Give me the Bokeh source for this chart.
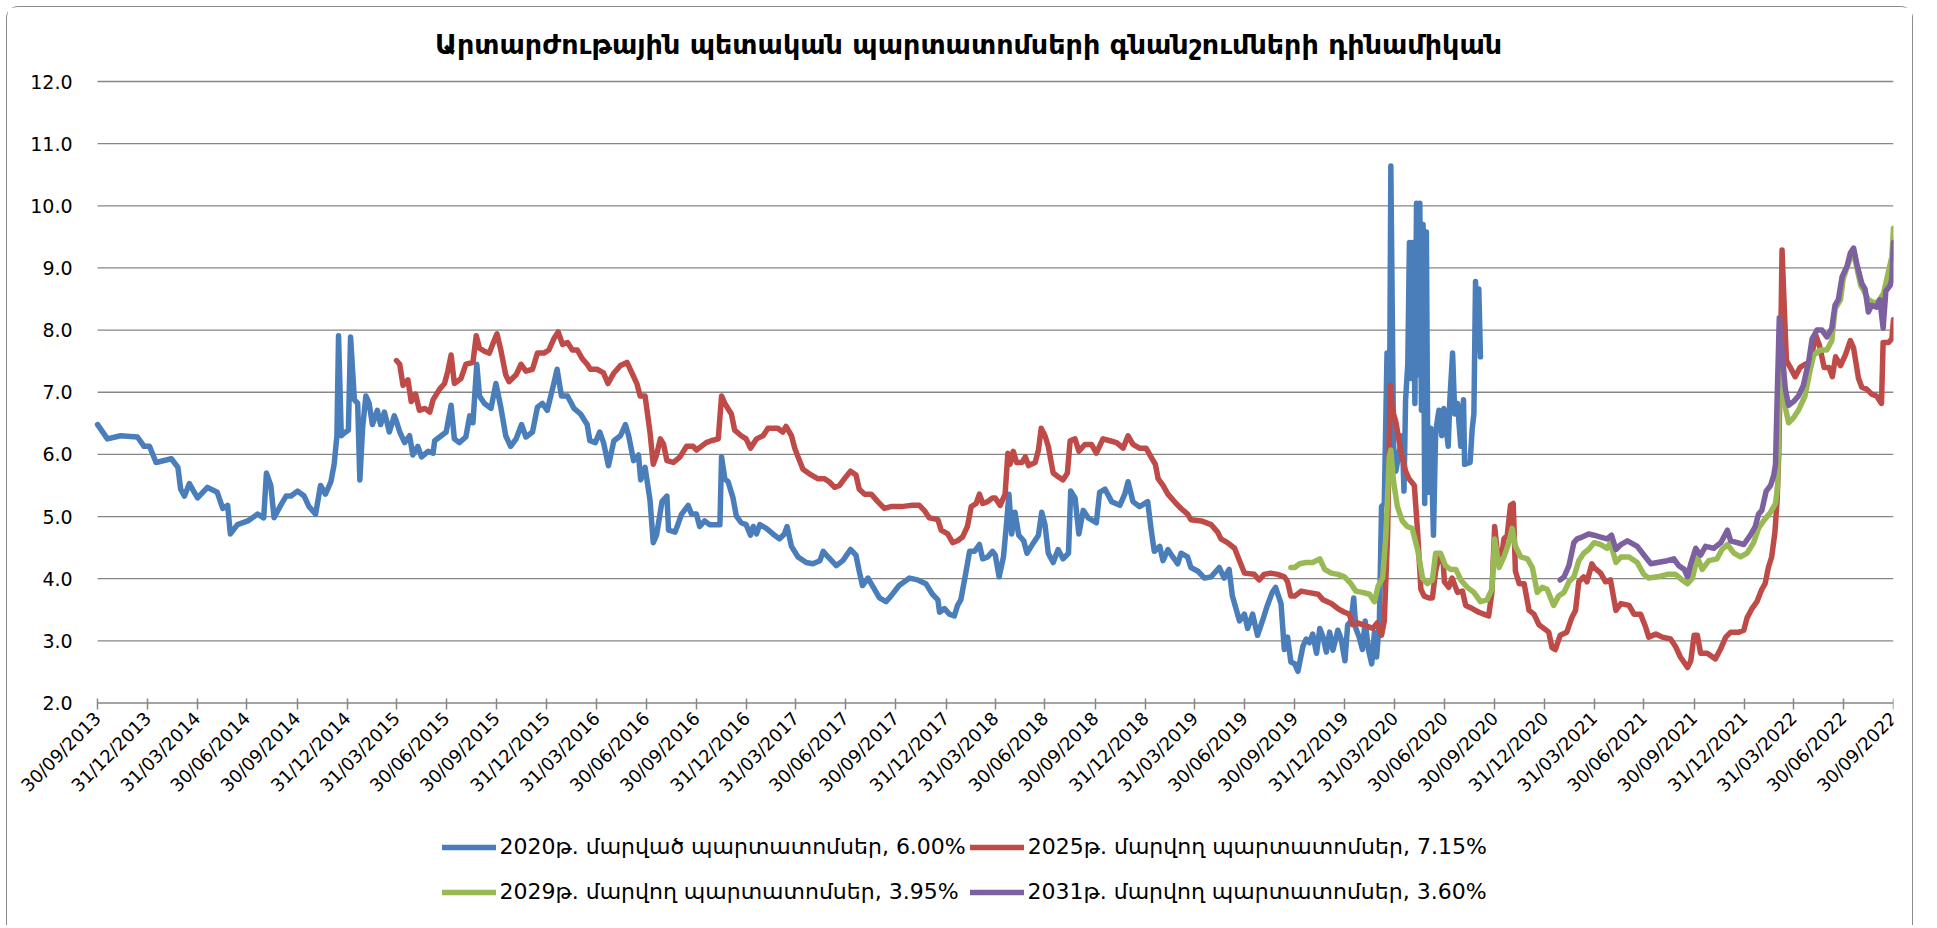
import pandas as pd
from bokeh.plotting import figure
from bokeh.models import (Range1d, FixedTicker, NumeralTickFormatter, Legend, LegendItem,
                          DatetimeTickFormatter)
from bokeh.embed import file_html
from bokeh.resources import INLINE

# ---------------- data ----------------
title_text = "Արտարժութային պետական պարտատոմսերի գնանշումների դինամիկան"

x_tick_labels = [
    "30/09/2013", "31/12/2013", "31/03/2014", "30/06/2014", "30/09/2014", "31/12/2014",
    "31/03/2015", "30/06/2015", "30/09/2015", "31/12/2015", "31/03/2016", "30/06/2016",
    "30/09/2016", "31/12/2016", "31/03/2017", "30/06/2017", "30/09/2017", "31/12/2017",
    "31/03/2018", "30/06/2018", "30/09/2018", "31/12/2018", "31/03/2019", "30/06/2019",
    "30/09/2019", "31/12/2019", "31/03/2020", "30/06/2020", "30/09/2020", "31/12/2020",
    "31/03/2021", "30/06/2021", "30/09/2021", "31/12/2021", "31/03/2022", "30/06/2022",
    "30/09/2022",
]
y_ticks = [2, 3, 4, 5, 6, 7, 8, 9, 10, 11, 12]

series_names = [
    "2020թ. մարված պարտատոմսեր, 6.00%",
    "2025թ. մարվող պարտատոմսեր, 7.15%",
    "2029թ. մարվող պարտատոմսեր, 3.95%",
    "2031թ. մարվող պարտատոմսեր, 3.60%",
]
series_colors = ["#4A7EBB", "#BE4B48", "#98B954", "#7D60A0"]

bond2020_dates = [
    "2013-09-30", "2013-10-18", "2013-11-11", "2013-12-12", "2013-12-24", "2014-01-03",
    "2014-01-15", "2014-02-12", "2014-02-24", "2014-03-01", "2014-03-08", "2014-03-17",
    "2014-03-26", "2014-04-01", "2014-04-19", "2014-05-07", "2014-05-17", "2014-05-26",
    "2014-05-31", "2014-06-13", "2014-07-02", "2014-07-20", "2014-07-31", "2014-08-05",
    "2014-08-13", "2014-08-19", "2014-08-31", "2014-09-10", "2014-09-19", "2014-10-01",
    "2014-10-13", "2014-10-22", "2014-11-03", "2014-11-12", "2014-11-21", "2014-12-01",
    "2014-12-07", "2014-12-12", "2014-12-15", "2014-12-20", "2014-12-28", "2015-01-02",
    "2015-01-06", "2015-01-13", "2015-01-19", "2015-01-23", "2015-01-28", "2015-02-03",
    "2015-02-09", "2015-02-15", "2015-02-24", "2015-03-02", "2015-03-09", "2015-03-18",
    "2015-03-27", "2015-03-31", "2015-04-06", "2015-04-15", "2015-04-24", "2015-04-30",
    "2015-05-09", "2015-05-16", "2015-05-28", "2015-06-06", "2015-06-09", "2015-06-21",
    "2015-06-30", "2015-07-09", "2015-07-15", "2015-07-24", "2015-08-05", "2015-08-12",
    "2015-08-18", "2015-08-25", "2015-08-30", "2015-09-08", "2015-09-20", "2015-09-29",
    "2015-10-08", "2015-10-17", "2015-10-26", "2015-11-05", "2015-11-15", "2015-11-23",
    "2015-12-05", "2015-12-14", "2015-12-23", "2016-01-01", "2016-01-13", "2016-01-19",
    "2016-01-27", "2016-02-07", "2016-02-19", "2016-03-02", "2016-03-14", "2016-03-19",
    "2016-03-29", "2016-04-06", "2016-04-13", "2016-04-22", "2016-05-02", "2016-05-14",
    "2016-05-23", "2016-05-29", "2016-06-07", "2016-06-16", "2016-06-20", "2016-06-28",
    "2016-07-07", "2016-07-13", "2016-07-19", "2016-07-29", "2016-08-07", "2016-08-10",
    "2016-08-22", "2016-09-03", "2016-09-15", "2016-09-21", "2016-09-30", "2016-10-06",
    "2016-10-15", "2016-10-24", "2016-11-02", "2016-11-12", "2016-11-15", "2016-11-21",
    "2016-11-27", "2016-12-06", "2016-12-12", "2016-12-21", "2016-12-30", "2017-01-07",
    "2017-01-12", "2017-01-18", "2017-01-24", "2017-02-05", "2017-02-17", "2017-03-01",
    "2017-03-10", "2017-03-15", "2017-03-23", "2017-04-04", "2017-04-19", "2017-05-01",
    "2017-05-14", "2017-05-20", "2017-05-29", "2017-06-13", "2017-06-25", "2017-07-09",
    "2017-07-19", "2017-07-25", "2017-07-31", "2017-08-10", "2017-08-22", "2017-08-31",
    "2017-09-12", "2017-09-21", "2017-10-06", "2017-10-25", "2017-11-09", "2017-11-24",
    "2017-12-06", "2017-12-16", "2017-12-19", "2017-12-28", "2018-01-06", "2018-01-15",
    "2018-01-21", "2018-01-27", "2018-02-05", "2018-02-12", "2018-02-21", "2018-03-02",
    "2018-03-08", "2018-03-17", "2018-03-26", "2018-03-31", "2018-04-07", "2018-04-15",
    "2018-04-21", "2018-04-25", "2018-04-30", "2018-05-06", "2018-05-13", "2018-05-22",
    "2018-05-28", "2018-06-09", "2018-06-18", "2018-06-24", "2018-06-30", "2018-07-06",
    "2018-07-15", "2018-07-24", "2018-08-02", "2018-08-12", "2018-08-16", "2018-08-24",
    "2018-08-31", "2018-09-08", "2018-09-17", "2018-10-02", "2018-10-08", "2018-10-18",
    "2018-10-30", "2018-11-14", "2018-11-23", "2018-11-29", "2018-12-08", "2018-12-20",
    "2019-01-04", "2019-01-10", "2019-01-16", "2019-01-26", "2019-02-01", "2019-02-10",
    "2019-02-19", "2019-02-28", "2019-03-06", "2019-03-18", "2019-03-24", "2019-04-06",
    "2019-04-18", "2019-04-30", "2019-05-15", "2019-05-24", "2019-06-02", "2019-06-08",
    "2019-06-21", "2019-06-30", "2019-07-06", "2019-07-15", "2019-07-24", "2019-08-02",
    "2019-08-11", "2019-08-20", "2019-08-26", "2019-09-05", "2019-09-11", "2019-09-17",
    "2019-09-23", "2019-09-30", "2019-10-06", "2019-10-15", "2019-10-21", "2019-10-27",
    "2019-11-02", "2019-11-09", "2019-11-15", "2019-11-21", "2019-11-27", "2019-12-03",
    "2019-12-09", "2019-12-18", "2019-12-24", "2019-12-31", "2020-01-05", "2020-01-11",
    "2020-01-16", "2020-01-20", "2020-01-26", "2020-02-01", "2020-02-06", "2020-02-12",
    "2020-02-18", "2020-02-23", "2020-02-27", "2020-03-03", "2020-03-07", "2020-03-12",
    "2020-03-17", "2020-03-21", "2020-03-24", "2020-03-29", "2020-04-02", "2020-04-08",
    "2020-04-14", "2020-04-17", "2020-04-20", "2020-04-24", "2020-04-27", "2020-04-30",
    "2020-05-03", "2020-05-07", "2020-05-10", "2020-05-13", "2020-05-16", "2020-05-19",
    "2020-05-22", "2020-05-25", "2020-05-28", "2020-05-31", "2020-06-05", "2020-06-10",
    "2020-06-14", "2020-06-20", "2020-06-25", "2020-06-29", "2020-07-07", "2020-07-10",
    "2020-07-15", "2020-07-19", "2020-07-24", "2020-07-30", "2020-08-04", "2020-08-06",
    "2020-08-16", "2020-08-20", "2020-08-23", "2020-08-26", "2020-08-29", "2020-09-01",
    "2020-09-04",
]
bond2020_values = [
    6.48, 6.25, 6.30, 6.28, 6.13, 6.13,
    5.87, 5.93, 5.79, 5.44, 5.33, 5.53,
    5.39, 5.30, 5.47, 5.39, 5.13, 5.18,
    4.72, 4.87, 4.93, 5.04, 4.98, 5.70,
    5.50, 4.98, 5.18, 5.33, 5.33, 5.41,
    5.33, 5.16, 5.04, 5.50, 5.36, 5.56,
    5.84, 6.30, 7.91, 6.30, 6.36, 6.39,
    7.89, 6.88, 6.82, 5.59, 6.42, 6.94,
    6.82, 6.48, 6.71, 6.48, 6.68, 6.36,
    6.62, 6.53, 6.36, 6.19, 6.30, 5.99,
    6.13, 5.96, 6.05, 6.02, 6.22, 6.30,
    6.36, 6.79, 6.25, 6.19, 6.28, 6.62,
    6.51, 7.45, 6.94, 6.82, 6.74, 7.14,
    6.76, 6.30, 6.13, 6.25, 6.48, 6.28,
    6.36, 6.76, 6.82, 6.71, 7.14, 7.37,
    6.94, 6.94, 6.74, 6.65, 6.48, 6.22,
    6.19, 6.36, 6.19, 5.82, 6.22, 6.30,
    6.48, 6.30, 5.90, 5.99, 5.59, 5.79,
    5.27, 4.58, 4.70, 5.24, 5.33, 4.78,
    4.75, 5.04, 5.18, 5.04, 5.04, 4.84,
    4.93, 4.87, 4.87, 4.87, 5.96, 5.61,
    5.56, 5.30, 5.01, 4.90, 4.87, 4.70,
    4.84, 4.72, 4.87, 4.81, 4.72, 4.64,
    4.72, 4.84, 4.52, 4.35, 4.26, 4.24,
    4.29, 4.44, 4.35, 4.21, 4.29, 4.47,
    4.38, 4.12, 3.89, 4.01, 3.83, 3.69,
    3.63, 3.72, 3.89, 4.01, 3.98, 3.92,
    3.75, 3.66, 3.46, 3.52, 3.43, 3.40,
    3.57, 3.66, 4.09, 4.44, 4.44, 4.55,
    4.32, 4.35, 4.44, 4.38, 4.03, 4.35,
    4.93, 5.36, 4.72, 5.07, 4.70, 4.61,
    4.41, 4.58, 4.70, 5.07, 4.87, 4.41,
    4.26, 4.47, 4.32, 4.41, 5.41, 5.30,
    4.72, 5.10, 4.98, 4.90, 5.39, 5.44,
    5.24, 5.18, 5.36, 5.56, 5.24, 5.16,
    5.24, 4.81, 4.44, 4.52, 4.29, 4.47,
    4.35, 4.24, 4.41, 4.35, 4.18, 4.12,
    4.01, 4.03, 4.18, 4.01, 4.15, 3.72,
    3.32, 3.43, 3.20, 3.43, 3.09, 3.32,
    3.57, 3.78, 3.86, 3.60, 2.86, 3.06,
    2.66, 2.63, 2.51, 2.91, 3.03, 2.97,
    3.11, 2.80, 3.20, 3.06, 2.82, 3.14,
    2.85, 3.17, 3.03, 2.68, 3.26, 3.32,
    3.69, 3.20, 3.06, 2.86, 3.32, 2.86,
    2.63, 3.14, 2.74, 3.32, 5.16, 5.21,
    7.63, 5.73, 10.64, 6.13, 5.73, 6.02,
    6.30, 5.41, 6.88, 7.45, 9.41, 7.22,
    9.41, 6.82, 10.04, 7.28, 10.04, 6.71,
    9.70, 5.21, 9.58, 5.39, 6.42, 4.70,
    6.36, 6.71, 6.30, 6.74, 6.13, 6.88,
    7.63, 6.65, 6.82, 6.13, 6.88, 5.84,
    5.87, 6.42, 6.65, 8.78, 7.68, 8.66,
    7.57,
]

bond2025_dates = [
    "2015-03-31", "2015-04-06", "2015-04-12", "2015-04-21", "2015-04-27", "2015-05-05",
    "2015-05-12", "2015-05-22", "2015-05-31", "2015-06-06", "2015-06-18", "2015-06-27",
    "2015-07-03", "2015-07-09", "2015-07-15", "2015-07-27", "2015-08-05", "2015-08-18",
    "2015-08-24", "2015-08-30", "2015-09-08", "2015-09-17", "2015-09-23", "2015-10-01",
    "2015-10-08", "2015-10-17", "2015-10-23", "2015-11-05", "2015-11-14", "2015-11-23",
    "2015-12-05", "2015-12-14", "2015-12-26", "2016-01-04", "2016-01-13", "2016-01-21",
    "2016-01-29", "2016-02-07", "2016-02-16", "2016-02-25", "2016-03-05", "2016-03-14",
    "2016-03-20", "2016-04-01", "2016-04-13", "2016-04-21", "2016-05-02", "2016-05-14",
    "2016-05-26", "2016-06-04", "2016-06-13", "2016-06-19", "2016-06-28", "2016-07-07",
    "2016-07-13", "2016-07-19", "2016-07-26", "2016-08-01", "2016-08-07", "2016-08-19",
    "2016-08-31", "2016-09-12", "2016-09-24", "2016-09-30", "2016-10-09", "2016-10-18",
    "2016-10-27", "2016-11-09", "2016-11-15", "2016-11-21", "2016-12-03", "2016-12-09",
    "2016-12-21", "2016-12-30", "2017-01-07", "2017-01-18", "2017-01-30", "2017-02-08",
    "2017-02-26", "2017-03-07", "2017-03-13", "2017-03-23", "2017-03-29", "2017-04-04",
    "2017-04-13", "2017-04-28", "2017-05-10", "2017-05-22", "2017-05-31", "2017-06-10",
    "2017-06-19", "2017-06-28", "2017-07-09", "2017-07-19", "2017-07-25", "2017-08-04",
    "2017-08-16", "2017-08-28", "2017-09-09", "2017-09-21", "2017-10-10", "2017-10-28",
    "2017-11-12", "2017-11-21", "2017-11-30", "2017-12-16", "2017-12-22", "2018-01-03",
    "2018-01-12", "2018-01-21", "2018-01-30", "2018-02-08", "2018-02-15", "2018-02-24",
    "2018-03-02", "2018-03-08", "2018-03-17", "2018-03-26", "2018-03-31", "2018-04-09",
    "2018-04-18", "2018-04-23", "2018-04-27", "2018-05-03", "2018-05-09", "2018-05-19",
    "2018-05-25", "2018-05-31", "2018-06-12", "2018-06-18", "2018-06-23", "2018-06-30",
    "2018-07-06", "2018-07-12", "2018-07-15", "2018-07-24", "2018-08-02", "2018-08-10",
    "2018-08-15", "2018-08-24", "2018-08-31", "2018-09-11", "2018-09-23", "2018-10-02",
    "2018-10-14", "2018-10-27", "2018-11-08", "2018-11-20", "2018-11-29", "2018-12-08",
    "2018-12-20", "2019-01-01", "2019-01-10", "2019-01-18", "2019-01-23", "2019-02-01",
    "2019-02-10", "2019-02-25", "2019-03-06", "2019-03-18", "2019-03-24", "2019-04-12",
    "2019-04-30", "2019-05-12", "2019-05-18", "2019-05-30", "2019-06-12", "2019-06-21",
    "2019-06-30", "2019-07-18", "2019-07-27", "2019-08-05", "2019-08-17", "2019-08-30",
    "2019-09-11", "2019-09-17", "2019-09-23", "2019-09-30", "2019-10-12", "2019-10-24",
    "2019-11-12", "2019-11-21", "2019-12-06", "2019-12-18", "2019-12-30", "2020-01-08",
    "2020-01-14", "2020-01-23", "2020-02-01", "2020-02-11", "2020-02-20", "2020-02-28",
    "2020-03-07", "2020-03-12", "2020-03-18", "2020-03-23", "2020-03-27", "2020-04-02",
    "2020-04-11", "2020-04-20", "2020-04-26", "2020-05-06", "2020-05-12", "2020-05-18",
    "2020-05-24", "2020-06-02", "2020-06-08", "2020-06-14", "2020-06-20", "2020-06-28",
    "2020-06-30", "2020-07-08", "2020-07-14", "2020-07-24", "2020-08-02", "2020-08-08",
    "2020-08-20", "2020-09-01", "2020-09-10", "2020-09-19", "2020-09-25", "2020-09-30",
    "2020-10-05", "2020-10-13", "2020-10-17", "2020-10-23", "2020-10-29", "2020-11-03",
    "2020-11-07", "2020-11-14", "2020-11-23", "2020-12-02", "2020-12-11", "2020-12-20",
    "2020-12-29", "2021-01-07", "2021-01-13", "2021-01-19", "2021-01-28", "2021-02-09",
    "2021-02-18", "2021-02-25", "2021-03-03", "2021-03-12", "2021-03-18", "2021-03-27",
    "2021-03-31", "2021-04-12", "2021-04-21", "2021-04-30", "2021-05-10", "2021-05-19",
    "2021-06-03", "2021-06-12", "2021-06-24", "2021-07-03", "2021-07-09", "2021-07-22",
    "2021-08-03", "2021-08-18", "2021-08-27", "2021-09-05", "2021-09-18", "2021-09-24",
    "2021-09-30", "2021-10-06", "2021-10-12", "2021-10-24", "2021-11-08", "2021-11-17",
    "2021-11-27", "2021-12-06", "2021-12-21", "2021-12-30", "2022-01-05", "2022-01-14",
    "2022-01-23", "2022-02-01", "2022-02-07", "2022-02-13", "2022-02-19", "2022-02-25",
    "2022-03-01", "2022-03-04", "2022-03-07", "2022-03-10", "2022-03-13", "2022-03-18",
    "2022-03-25", "2022-04-03", "2022-04-12", "2022-04-21", "2022-04-30", "2022-05-11",
    "2022-05-17", "2022-05-26", "2022-06-04", "2022-06-10", "2022-06-16", "2022-06-25",
    "2022-07-04", "2022-07-13", "2022-07-19", "2022-07-28", "2022-08-03", "2022-08-12",
    "2022-08-21", "2022-08-30", "2022-09-08", "2022-09-11", "2022-09-21", "2022-09-27",
    "2022-09-30",
]
bond2025_values = [
    7.51, 7.45, 7.11, 7.20, 6.85, 6.97,
    6.71, 6.74, 6.68, 6.88, 7.05, 7.14,
    7.34, 7.60, 7.14, 7.22, 7.45, 7.48,
    7.91, 7.71, 7.66, 7.63, 7.77, 7.94,
    7.68, 7.28, 7.17, 7.28, 7.45, 7.34,
    7.37, 7.63, 7.63, 7.68, 7.86, 7.97,
    7.77, 7.80, 7.68, 7.68, 7.54, 7.45,
    7.37, 7.37, 7.31, 7.14, 7.31, 7.43,
    7.48, 7.31, 7.14, 6.94, 6.94, 6.36,
    5.84, 5.99, 6.25, 6.16, 5.90, 5.87,
    5.96, 6.13, 6.13, 6.07, 6.13, 6.19,
    6.22, 6.25, 6.94, 6.82, 6.65, 6.39,
    6.30, 6.25, 6.10, 6.25, 6.30, 6.42,
    6.42, 6.36, 6.45, 6.30, 6.10, 5.96,
    5.76, 5.67, 5.61, 5.61, 5.56, 5.47,
    5.50, 5.61, 5.73, 5.67, 5.44, 5.36,
    5.36, 5.24, 5.13, 5.16, 5.16, 5.18,
    5.18, 5.10, 4.98, 4.95, 4.78, 4.72,
    4.58, 4.61, 4.67, 4.84, 5.16, 5.21,
    5.36, 5.21, 5.24, 5.30, 5.30, 5.18,
    5.36, 6.02, 5.84, 6.05, 5.87, 5.87,
    5.96, 5.82, 5.87, 6.07, 6.42, 6.30,
    6.13, 5.84, 5.70, 5.64, 5.59, 5.70,
    6.22, 6.25, 6.05, 6.16, 6.16, 6.02,
    6.25, 6.22, 6.19, 6.10, 6.30, 6.16,
    6.10, 6.10, 5.96, 5.84, 5.61, 5.50,
    5.36, 5.21, 5.13, 5.04, 4.95, 4.93,
    4.87, 4.75, 4.64, 4.58, 4.49, 4.29,
    4.09, 4.07, 3.98, 4.07, 4.09, 4.07,
    4.03, 3.95, 3.72, 3.72, 3.80, 3.78,
    3.75, 3.66, 3.60, 3.52, 3.46, 3.43,
    3.26, 3.29, 3.26, 3.23, 3.20, 3.29,
    3.09, 3.32, 4.70, 7.11, 6.71, 6.53,
    6.07, 5.73, 5.61, 5.50, 4.75, 3.83,
    3.72, 3.69, 3.69, 4.12, 4.35, 4.24,
    3.95, 3.86, 4.01, 3.78, 3.80, 3.57,
    3.52, 3.46, 3.43, 3.40, 3.78, 4.84,
    4.41, 4.38, 4.64, 4.70, 5.18, 5.21,
    4.12, 3.92, 3.92, 3.49, 3.43, 3.26,
    3.20, 3.14, 2.89, 2.86, 3.09, 3.14,
    3.37, 3.49, 3.95, 4.03, 3.95, 4.24,
    4.18, 4.09, 3.95, 3.98, 3.49, 3.60,
    3.57, 3.43, 3.43, 3.23, 3.06, 3.11,
    3.06, 3.03, 2.91, 2.74, 2.57, 2.68,
    3.09, 3.09, 2.80, 2.80, 2.71, 2.86,
    3.06, 3.14, 3.14, 3.17, 3.37, 3.52,
    3.63, 3.83, 3.92, 4.18, 4.35, 4.75,
    5.27, 6.01, 7.45, 9.29, 8.60, 7.51,
    7.40, 7.25, 7.40, 7.45, 7.48, 7.91,
    7.77, 7.40, 7.40, 7.25, 7.57, 7.43,
    7.60, 7.83, 7.71, 7.22, 7.08, 7.05,
    6.97, 6.94, 6.82, 7.80, 7.80, 7.86,
    8.17,
]

bond2029_dates = [
    "2019-09-23", "2019-09-30", "2019-10-09", "2019-10-21", "2019-11-02", "2019-11-15",
    "2019-11-24", "2019-12-06", "2019-12-18", "2019-12-30", "2020-01-11", "2020-01-20",
    "2020-02-01", "2020-02-14", "2020-02-23", "2020-03-01", "2020-03-09", "2020-03-15",
    "2020-03-21", "2020-03-24", "2020-03-29", "2020-04-05", "2020-04-14", "2020-04-23",
    "2020-05-02", "2020-05-12", "2020-05-21", "2020-05-30", "2020-06-08", "2020-06-14",
    "2020-06-23", "2020-07-02", "2020-07-11", "2020-07-21", "2020-07-30", "2020-08-11",
    "2020-08-23", "2020-09-04", "2020-09-16", "2020-09-25", "2020-09-30", "2020-10-08",
    "2020-10-17", "2020-10-26", "2020-11-01", "2020-11-07", "2020-11-17", "2020-11-29",
    "2020-12-08", "2020-12-17", "2020-12-26", "2021-01-04", "2021-01-16", "2021-01-25",
    "2021-02-04", "2021-02-13", "2021-02-22", "2021-03-03", "2021-03-12", "2021-03-21",
    "2021-03-31", "2021-04-12", "2021-04-24", "2021-04-30", "2021-05-10", "2021-05-19",
    "2021-06-03", "2021-06-18", "2021-06-30", "2021-07-09", "2021-07-25", "2021-08-12",
    "2021-08-27", "2021-09-08", "2021-09-18", "2021-09-27", "2021-10-06", "2021-10-15",
    "2021-10-27", "2021-11-11", "2021-11-20", "2021-11-30", "2021-12-12", "2021-12-24",
    "2022-01-05", "2022-01-17", "2022-01-26", "2022-02-04", "2022-02-17", "2022-02-26",
    "2022-03-02", "2022-03-06", "2022-03-10", "2022-03-16", "2022-03-22", "2022-03-31",
    "2022-04-09", "2022-04-21", "2022-04-30", "2022-05-07", "2022-05-19", "2022-05-31",
    "2022-06-09", "2022-06-15", "2022-06-25", "2022-06-30", "2022-07-07", "2022-07-16",
    "2022-07-22", "2022-08-01", "2022-08-07", "2022-08-15", "2022-08-27", "2022-09-05",
    "2022-09-12", "2022-09-21", "2022-09-27", "2022-09-30",
]
bond2029_values = [
    4.18, 4.18, 4.24, 4.26, 4.26, 4.32,
    4.15, 4.09, 4.07, 4.03, 3.92, 3.80,
    3.78, 3.75, 3.63, 3.89, 4.01, 4.70,
    5.96, 6.07, 5.56, 5.16, 4.93, 4.84,
    4.81, 4.47, 4.01, 3.92, 3.98, 4.41,
    4.41, 4.21, 4.15, 4.15, 3.98, 3.86,
    3.78, 3.63, 3.66, 3.83, 4.64, 4.18,
    4.35, 4.58, 4.81, 4.52, 4.35, 4.32,
    4.18, 3.78, 3.86, 3.83, 3.57, 3.72,
    3.78, 3.95, 4.03, 4.29, 4.41, 4.47,
    4.58, 4.55, 4.49, 4.58, 4.26, 4.35,
    4.35, 4.26, 4.07, 4.01, 4.03, 4.07,
    4.07, 3.98, 3.92, 4.01, 4.35, 4.15,
    4.29, 4.32, 4.47, 4.55, 4.41, 4.35,
    4.41, 4.58, 4.81, 4.93, 5.07, 5.21,
    5.50, 7.45, 7.51, 6.76, 6.51, 6.59,
    6.71, 6.94, 7.34, 7.60, 7.68, 7.68,
    7.83, 8.34, 8.49, 8.83, 9.01, 9.24,
    9.12, 8.72, 8.63, 8.49, 8.43, 8.49,
    8.60, 8.95, 9.18, 9.64,
]

bond2031_dates = [
    "2021-01-28", "2021-02-04", "2021-02-13", "2021-02-22", "2021-02-28", "2021-03-09",
    "2021-03-21", "2021-03-31", "2021-04-12", "2021-04-24", "2021-05-02", "2021-05-10",
    "2021-05-19", "2021-05-31", "2021-06-18", "2021-07-03", "2021-07-13", "2021-07-25",
    "2021-08-12", "2021-08-24", "2021-09-02", "2021-09-12", "2021-09-18", "2021-09-24",
    "2021-10-03", "2021-10-12", "2021-10-21", "2021-11-05", "2021-11-18", "2021-11-30",
    "2021-12-06", "2021-12-18", "2021-12-30", "2022-01-11", "2022-01-20", "2022-01-26",
    "2022-02-01", "2022-02-09", "2022-02-17", "2022-02-23", "2022-02-26", "2022-03-01",
    "2022-03-05", "2022-03-10", "2022-03-16", "2022-03-22", "2022-03-31", "2022-04-09",
    "2022-04-18", "2022-04-28", "2022-05-04", "2022-05-13", "2022-05-22", "2022-05-31",
    "2022-06-09", "2022-06-15", "2022-06-21", "2022-06-28", "2022-07-07", "2022-07-13",
    "2022-07-19", "2022-07-25", "2022-08-03", "2022-08-09", "2022-08-15", "2022-08-21",
    "2022-08-30", "2022-09-05", "2022-09-11", "2022-09-16", "2022-09-24", "2022-09-27",
    "2022-09-30",
]
bond2031_values = [
    3.98, 4.03, 4.21, 4.58, 4.64, 4.67,
    4.72, 4.70, 4.67, 4.64, 4.70, 4.47,
    4.55, 4.61, 4.52, 4.35, 4.24, 4.26,
    4.29, 4.32, 4.21, 4.15, 4.03, 4.24,
    4.49, 4.38, 4.52, 4.49, 4.58, 4.78,
    4.61, 4.58, 4.55, 4.70, 4.84, 5.04,
    5.10, 5.41, 5.50, 5.67, 5.84, 6.88,
    8.20, 7.68, 7.05, 6.79, 6.85, 6.94,
    7.11, 7.51, 7.86, 8.00, 8.00, 7.89,
    8.03, 8.40, 8.49, 8.86, 9.03, 9.24,
    9.32, 9.06, 8.75, 8.66, 8.29, 8.40,
    8.37, 8.49, 8.03, 8.63, 8.72, 8.83,
    9.41,
]

# ---------------- layout constants (page pixels) ----------------
MARGIN, BORDER = 6, 1.5
ORG = MARGIN + BORDER            # canvas origin on the page
FIG_W, FIG_H = 1907, 919
PLOT_L, PLOT_R = 97.6, 1893.5    # where the first / last date tick sit
PLOT_T, PLOT_B = 81.5, 703.0     # where 12.0 / 2.0 sit
TOP = 58                         # frame starts a little above the 12.0 line
RIGHT = int(round(ORG + FIG_W - PLOT_R))

def to_ms(d):
    return pd.Timestamp(d).value / 1e6

tick_ms = [to_ms(pd.to_datetime(t, format="%d/%m/%Y")) for t in x_tick_labels]

# the frame covers the whole lower canvas; scales are set so the ticks land where the
# reference puts them, leaving room for the tick labels and the legend inside it
frame_l, frame_r = ORG, ORG + FIG_W - RIGHT
frame_t, frame_b = ORG + TOP, ORG + FIG_H
px_per_ms = (PLOT_R - PLOT_L) / (tick_ms[-1] - tick_ms[0])
x_start = tick_ms[0] - (PLOT_L - frame_l) / px_per_ms
x_end = tick_ms[-1] + (frame_r - PLOT_R) / px_per_ms
px_per_unit = (PLOT_B - PLOT_T) / (y_ticks[-1] - y_ticks[0])
y_high = y_ticks[-1] + (PLOT_T - frame_t) / px_per_unit
y_low = y_ticks[0] - (frame_b - PLOT_B) / px_per_unit

p = figure(width=FIG_W, height=FIG_H, output_backend="svg", toolbar_location=None,
           x_axis_type="datetime",
           x_range=Range1d(x_start, x_end),
           y_range=Range1d(y_low, y_high),
           min_border_left=0, min_border_right=RIGHT,
           min_border_top=TOP, min_border_bottom=0)
p.styles = {"margin-left": f"{MARGIN}px", "margin-top": f"{MARGIN}px",
            "border-top": f"{BORDER}px solid #8c8c8c", "border-left": f"{BORDER}px solid #8c8c8c",
            "border-right": f"{BORDER}px solid #8c8c8c", "border-radius": "12px 12px 0 0"}
p.outline_line_color = None
p.background_fill_color = "white"
p.border_fill_color = "white"

p.title.text = title_text
p.title.align = "left"
p.title.text_font = "DejaVu Sans"
p.title.text_font_size = "27px"
p.title.text_font_style = "bold"
p.title.text_color = "black"
p.title.offset = 435 - ORG
p.title.standoff = 12

# horizontal gridlines (the 2.0 one doubles as the date axis line), spanning the dates only
p.xgrid.visible = False
p.ygrid.visible = False
n = len(y_ticks)
grid_widths = [1.5] + [1.3] * (n - 1)
p.segment(x0=[tick_ms[0]] * n, x1=[tick_ms[-1]] * n, y0=y_ticks, y1=y_ticks,
          line_color="#868686", line_width=grid_widths)

p.yaxis.fixed_location = tick_ms[0]
p.yaxis.ticker = FixedTicker(ticks=y_ticks)
p.yaxis.formatter = NumeralTickFormatter(format="0.0")
p.yaxis.axis_line_color = None
p.yaxis.major_tick_line_color = None
p.yaxis.minor_tick_line_color = None
p.yaxis.major_label_standoff = 19
p.yaxis.major_label_text_font = "DejaVu Sans"
p.yaxis.major_label_text_font_size = "19px"
p.yaxis.major_label_text_color = "black"

p.xaxis.fixed_location = y_ticks[0]
p.xaxis.ticker = FixedTicker(ticks=tick_ms)
fmt = "%d/%m/%Y"
p.xaxis.formatter = DatetimeTickFormatter(
    microseconds=fmt, milliseconds=fmt, seconds=fmt, minsec=fmt, minutes=fmt,
    hourmin=fmt, hours=fmt, days=fmt, months=fmt, years=fmt)
p.xaxis.major_label_orientation = 0.785398
p.xaxis.axis_line_color = None
p.xaxis.major_tick_line_color = "#868686"
p.xaxis.major_tick_line_width = 1.5
p.xaxis.major_tick_in = 5
p.xaxis.major_tick_out = 6
p.xaxis.minor_tick_line_color = None
p.xaxis.major_label_standoff = 6
p.xaxis.major_label_text_font = "DejaVu Sans"
p.xaxis.major_label_text_font_size = "18px"
p.xaxis.major_label_text_color = "black"

all_dates = [bond2020_dates, bond2025_dates, bond2029_dates, bond2031_dates]
all_values = [bond2020_values, bond2025_values, bond2029_values, bond2031_values]
renderers = []
for d, v, c in zip(all_dates, all_values, series_colors):
    r = p.line(pd.to_datetime(d), v, line_color=c, line_width=5.5,
               line_join="round", line_cap="round")
    renderers.append(r)

items = [LegendItem(label=nm, renderers=[r]) for nm, r in zip(series_names, renderers)]
for row, row_center in ((items[:2], 847), (items[2:], 892)):
    lg = Legend(items=row, orientation="horizontal",
                location=(442 - frame_l, frame_b - (row_center + 13)))
    lg.label_text_font = "DejaVu Sans"
    lg.label_text_font_size = "22px"
    lg.label_text_color = "black"
    lg.label_width = 466
    lg.glyph_width = 54
    lg.glyph_height = 26
    lg.label_standoff = 4
    lg.spacing = 4
    lg.padding = 0
    lg.margin = 0
    lg.border_line_color = None
    lg.background_fill_alpha = 0
    p.add_layout(lg)

open("out.html", "w").write(file_html(p, INLINE))
